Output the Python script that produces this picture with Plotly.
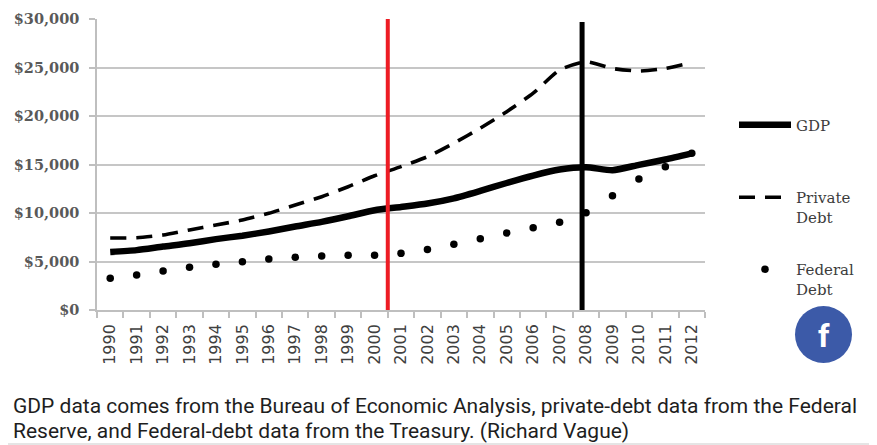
import plotly.graph_objects as go

# Values in billions of US dollars
years = list(range(1990, 2013))
gdp = [5980, 6174, 6539, 6879, 7309, 7664, 8100, 8609, 9089, 9661, 10285, 10622,
       10978, 11511, 12275, 13094, 13856, 14478, 14719, 14419, 14964, 15518, 16155]
private_debt = [7420, 7450, 7730, 8250, 8760, 9280, 9970, 10820, 11680, 12710, 13840, 14780,
                15800, 17200, 18750, 20450, 22350, 24740, 25600, 24900, 24640, 24900, 25500]
federal_debt = [3270, 3610, 4020, 4400, 4710, 4980, 5260, 5430, 5570, 5640, 5650, 5840,
                6250, 6770, 7350, 7940, 8490, 9040, 10030, 11790, 13500, 14770, 16150]
y_ticks = [0, 5000, 10000, 15000, 20000, 25000, 30000]
y_tick_labels = [f"${v:,}" for v in y_ticks]

# Marker lines drawn over the chart
red_line_year = 2000.5
black_line_year = 2007.85

caption_1 = "GDP data comes from the Bureau of Economic Analysis, private-debt data from the Federal"
caption_2 = "Reserve, and Federal-debt data from the Treasury. (Richard Vague)"

# the page puts the figure 8px in from the corner, so work in window pixels
# and shift everything by that offset
OFF = 8
W, H = 877 - OFF, 445 - OFF
L, R, T, B = 97 - OFF, 705 - OFF, 19 - OFF, 310 - OFF


def px_x(px):
    return (px - OFF - L) / (R - L)


def px_y(py):
    return (B - (py - OFF)) / (B - T)


fig = go.Figure()

fig.add_trace(go.Scatter(
    x=years, y=gdp, name="GDP", mode="lines",
    line=dict(color="black", width=6.5, shape="spline", smoothing=0.6),
    legend="legend",
))
fig.add_trace(go.Scatter(
    x=years, y=private_debt, name="Private<br>Debt", mode="lines",
    line=dict(color="black", width=3.6, dash="16px,10px", shape="spline", smoothing=0.6),
    legend="legend2",
))
fig.add_trace(go.Scatter(
    x=years, y=federal_debt, name="Federal<br>Debt", mode="markers",
    marker=dict(color="black", size=7.5),
    legend="legend3",
))

# vertical red and black lines
fig.add_shape(type="line", xref="x", yref="y", x0=red_line_year, x1=red_line_year,
              y0=0, y1=30800, line=dict(color="#ed1c24", width=4))
fig.add_shape(type="line", xref="x", yref="y", x0=black_line_year, x1=black_line_year,
              y0=-320, y1=29700, line=dict(color="black", width=5))

# facebook badge
fig.add_shape(type="circle", xref="paper", yref="paper", layer="below",
              x0=px_x(795), x1=px_x(852), y0=px_y(363), y1=px_y(306),
              fillcolor="#3c5aa8", line=dict(width=0))
fig.add_annotation(text="<b>f</b>", xref="paper", yref="paper", x=px_x(824), y=px_y(336),
                   xanchor="center", yanchor="middle", showarrow=False,
                   font=dict(family="Roboto", size=32, color="white"))

# caption
fig.add_annotation(text=caption_1, xref="paper", yref="paper", x=px_x(11), y=px_y(406),
                   xanchor="left", yanchor="middle", showarrow=False,
                   font=dict(family="Roboto", size=21, color="#1e1e1e"))
fig.add_annotation(text=caption_2, xref="paper", yref="paper", x=px_x(11), y=px_y(431),
                   xanchor="left", yanchor="middle", showarrow=False,
                   font=dict(family="Roboto", size=21, color="#1e1e1e"))
fig.add_shape(type="line", xref="paper", yref="paper", x0=px_x(OFF), x1=px_x(877),
              y0=px_y(444), y1=px_y(444), line=dict(color="#dcdcdc", width=1.5))

legend_style = dict(
    xanchor="left", yanchor="middle", bgcolor="rgba(0,0,0,0)", itemwidth=52,
    valign="top", font=dict(family="DejaVu Serif", size=15, color="#3c3c3c"),
)

fig.update_layout(
    width=W, height=H,
    margin=dict(l=L, r=W - R, t=T, b=H - B, autoexpand=False),
    paper_bgcolor="white", plot_bgcolor="white",
    showlegend=True,
    legend=dict(x=px_x(734), y=px_y(125), **legend_style),
    legend2=dict(x=px_x(734), y=px_y(207), **legend_style),
    legend3=dict(x=px_x(734), y=px_y(279), **legend_style),
    xaxis=dict(
        range=[1989.5, 2012.5], tickmode="array", tickvals=years,
        ticktext=[str(y) for y in years], tickangle=-90, ticks="",
        showgrid=False, zeroline=False, showline=True, linecolor="#bfbfbf", linewidth=1.5,
        tickfont=dict(family="DejaVu Sans", size=16, color="#404040"),
        minor=dict(tickmode="array", tickvals=[y - 0.5 for y in years] + [2012.5],
                   ticks="outside", ticklen=6, tickcolor="#bfbfbf", tickwidth=1.5, showgrid=False),
        ticklabelstandoff=6, automargin=False,
    ),
    yaxis=dict(
        range=[0, 30000], tickmode="array", tickvals=y_ticks, ticktext=y_tick_labels,
        ticks="outside", ticklen=6, tickcolor="#bfbfbf", tickwidth=1.5,
        showgrid=True, gridcolor="#c6c6c6", gridwidth=1.5, zeroline=False,
        showline=True, linecolor="#bfbfbf", linewidth=1.5,
        tickfont=dict(family="DejaVu Serif", size=14.5, color="#595959", weight="bold"),
        ticklabelstandoff=7, automargin=False,
    ),
)

fig.write_html("out.html")
